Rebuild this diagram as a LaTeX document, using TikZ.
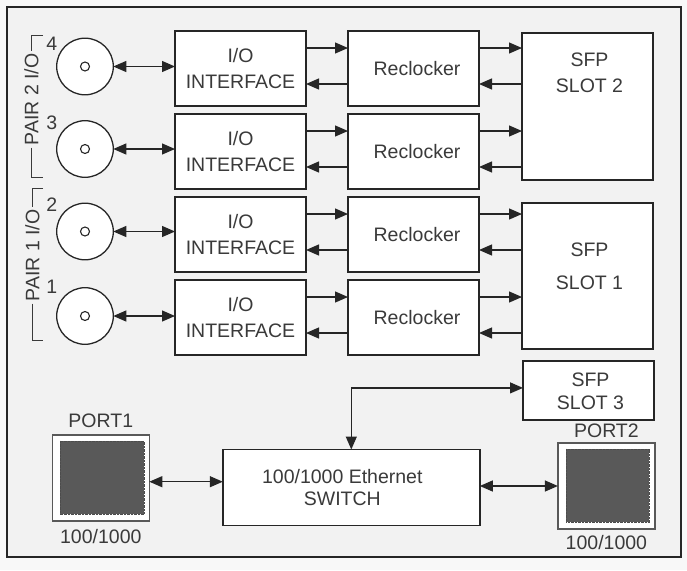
\documentclass[tikz,border=0pt]{standalone}
\usepackage{fontspec}
\setmainfont{Liberation Sans}
\usetikzlibrary{calc,positioning,arrows.meta}
\tikzset{>={Triangle[width=11pt,length=13pt]}}
\definecolor{page}{HTML}{F8F8F8}
\definecolor{panel}{HTML}{F2F2F2}
\definecolor{ink}{HTML}{3A3A3A}
\definecolor{edge}{HTML}{262626}
\definecolor{jack}{HTML}{595959}

\begin{document}
\begin{tikzpicture}[
x=1pt, y=-1pt,
font=\fontsize{19.5}{26}\selectfont,
text=ink,
box/.style = {draw=edge, fill=white, line width=1.6pt,
              minimum width=131pt, minimum height=75pt,
              inner sep=0pt, outer sep=0pt,
              align=center},
txt/.style = {inner sep=0pt, align=center},
grp/.style = {rotate=90, inner xsep=2pt, inner ysep=0pt},
coax/.style = {circle, draw=edge, fill=white, line width=1.3pt,
               minimum size=56.6pt, inner sep=0pt, outer sep=0pt,
               path picture={\draw[line width=1.1pt]
                 (path picture bounding box.center) circle (4.5pt);}},
port/.style = {draw=black!65, fill=white, line width=1.5pt,
               minimum width=97pt, minimum height=86pt,
               inner sep=0pt, outer sep=0pt,
               path picture={\filldraw[fill=jack, draw=black!70, densely dotted, line width=0.4pt]
                 ([shift={(8pt,-5.7pt)}]path picture bounding box.north west) rectangle
                 ([shift={(-5.5pt,6.6pt)}]path picture bounding box.south east);}},
link/.style = {draw=edge, line width=1.2pt},
bracket/.style = {draw=ink, line width=1pt},
]
        \path[use as bounding box, fill=page] (0,0) rectangle (687,570);
        \filldraw[fill=panel, draw=edge, line width=2pt] (7,7) rectangle (681,557);
        % interface and reclocker rows
        \node (io4) [box] at (240.5,68.5) {I/O\\INTERFACE};
        \node (rc4) [box, right=42pt of io4] {\hspace*{7pt}Reclocker};
        \node (io3) [box, below=8pt of io4] {I/O\\INTERFACE};
        \node (rc3) [box, right=42pt of io3] {\hspace*{7pt}Reclocker};
        \node (io2) [box, below=8pt of io3] {I/O\\INTERFACE};
        \node (rc2) [box, right=42pt of io2] {\hspace*{7pt}Reclocker};
        \node (io1) [box, below=8pt of io2] {I/O\\INTERFACE};
        \node (rc1) [box, right=42pt of io1] {\hspace*{7pt}Reclocker};
        % SFP slots
        \node (sfp2) [box, minimum height=147pt, anchor=north west] at (522,33) {};
        \node (sfp2txt) [txt] at ($(sfp2.north)+(2,40)$) {SFP\\SLOT 2};
        \node (sfp1) [box, minimum height=146pt, anchor=north west] at (522,203) {};
        \node (sfp1txt) [txt] at ($(sfp1.north)+(2,63)$) {SFP\\[7pt]SLOT 1};
        \node (sfp3) [box, minimum height=59pt, anchor=north west] at (523,361) {};
        \node (sfp3txt) [txt] at ($(sfp3.center)+(2,0.5)$) {SFP\\[-3pt]SLOT 3};
        % coax connectors
        \node (coax4) [coax] at (85,66.5) {};
        \node (coax3) [coax] at (85,149) {};
        \node (coax2) [coax] at (85,231.5) {};
        \node (coax1) [coax] at (85,316) {};
        \node (num4) [txt] at (51.7,43.3) {4};
        \node (num3) [txt] at (51.7,123) {3};
        \node (num2) [txt] at (51.7,205) {2};
        \node (num1) [txt] at (51.7,286.7) {1};
        % pair brackets
        \node (pair2) [grp] at (31.5,99.5) {PAIR 2 I/O};
        \draw[bracket] (43,35) -| (pair2.east);
        \draw[bracket] (pair2.west) |- (43,177);
        \node (pair1) [grp] at (32.5,255.5) {PAIR 1 I/O};
        \draw[bracket] (43,188) -| (pair1.east);
        \draw[bracket] (pair1.west) |- (43,340);
        % signal arrows
        \foreach \r/\s in {4/sfp2,3/sfp2,2/sfp1,1/sfp1} {
          \coordinate (up\r) at ([yshift=-17pt]rc\r.north east);
          \coordinate (dn\r) at ([yshift=-53pt]rc\r.north east);
          \draw[link,<->] (coax\r.east) -- (coax\r.east -| io\r.west);
          \draw[link,->] ([yshift=-17pt]io\r.north east) -- ([yshift=-17pt]rc\r.north west);
          \draw[link,<-] ([yshift=-53pt]io\r.north east) -- ([yshift=-53pt]rc\r.north west);
          \draw[link,->] (up\r) -- (up\r -| \s.west);
          \draw[link,<-] (dn\r) -- (dn\r -| \s.west);
        }
        % ethernet switch and ports
        \node (switch) [box, minimum width=257pt, minimum height=76pt] at (351.3,487.5) {};
        \node (swtxt) [txt] at ($(switch.center)+(-9,0.3)$) {100/1000 Ethernet\\[-3.7pt]SWITCH};
        \node (port1) [port] at (100.8,478) {};
        \node (port1top) [txt, above=7pt of port1] {PORT1};
        \node (port1bot) [txt, below=8.5pt of port1] {100/1000};
        \node (port2) [port] at (606.4,486) {};
        \node (port2top) [txt, above=4.7pt of port2] {PORT2};
        \node (port2bot) [txt, below=6.4pt of port2] {100/1000};
        \coordinate (p1out) at ([yshift=-3.7pt]port1.east);
        \draw[link,<->] (p1out) -- (p1out -| switch.west);
        \draw[link,<->] (switch.east |- port2.west) -- (port2.west);
        \draw[link,<->] (switch.north) |- ([yshift=2.6pt]sfp3.west);
\end{tikzpicture}
\end{document}
